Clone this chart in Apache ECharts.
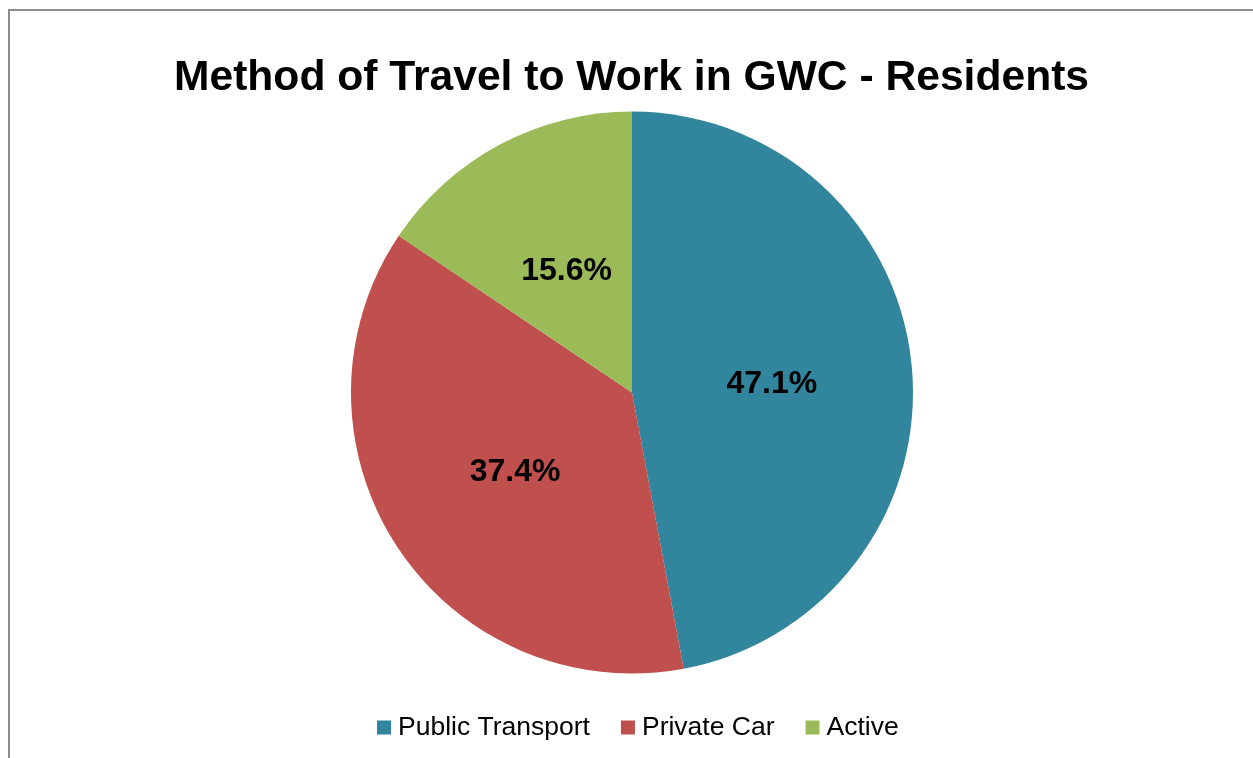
<!DOCTYPE html>
<html>
<head>
<meta charset="utf-8">
<style>
  html, body { margin: 0; padding: 0; background: #ffffff; }
  #chart { width: 1253px; height: 758px; }
</style>
<script src="https://cdn.jsdelivr.net/npm/echarts@6/dist/echarts.min.js"></script>
</head>
<body>
<div id="chart"></div>
<script>
// Travel-to-work mode shares (percent)
const categories = ['Public Transport', 'Private Car', 'Active'];
const shares = [47.1, 37.4, 15.6];
const colors = ['#31859C', '#C0504D', '#9BBB59'];

const chart = echarts.init(document.getElementById('chart'), null, { renderer: 'canvas' });

// small nudges so the in-slice percentages sit like the spreadsheet's layout
const labelNudge = [[-3, 5], [3, 1], [2, 5]];

chart.setOption({
  animation: false,
  color: colors,
  title: {
    text: 'Method of Travel to Work in GWC - Residents',
    left: 169,
    top: 52,
    textStyle: {
      fontFamily: 'Liberation Sans, Arial, sans-serif',
      fontWeight: 'bold',
      fontSize: 42.6,
      color: '#000000'
    }
  },
  legend: {
    data: categories,
    top: 709,
    left: 372,
    icon: 'rect',
    itemWidth: 14,
    itemHeight: 14,
    itemGap: 31,
    textStyle: {
      fontFamily: 'Liberation Sans, Arial, sans-serif',
      fontSize: 26.5,
      color: '#000000',
      padding: [0, 0, 0, 2]
    }
  },
  graphic: [{
    type: 'rect',
    shape: { x: 9, y: 10, width: 1300, height: 800 },
    style: { fill: 'none', stroke: '#8c8c8c', lineWidth: 2 },
    silent: true
  }],
  series: [{
    type: 'pie',
    center: [632, 392.5],
    radius: [0, 281],
    startAngle: 90,
    clockwise: true,
    avoidLabelOverlap: false,
    label: {
      show: true,
      position: 'inside',
      formatter: p => p.value.toFixed(1) + '%',
      fontFamily: 'Liberation Sans, Arial, sans-serif',
      fontWeight: 'bold',
      fontSize: 32,
      color: '#000000'
    },
    labelLine: { show: false },
    itemStyle: { borderWidth: 0 },
    emphasis: { disabled: true },
    data: categories.map((name, i) => ({
      name: name,
      value: shares[i],
      label: { offset: labelNudge[i] }
    }))
  }]
});
</script>
</body>
</html>
